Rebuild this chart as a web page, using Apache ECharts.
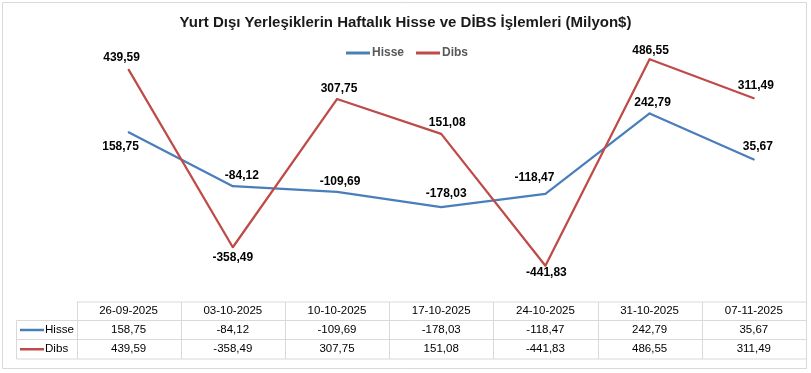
<!DOCTYPE html>
<html><head><meta charset="utf-8">
<script src="https://cdn.jsdelivr.net/npm/echarts@6/dist/echarts.min.js"></script>
<style>html,body{margin:0;padding:0;background:#fff}#c{width:811px;height:373px}</style>
</head><body><div id="c"></div>
<script>
const categories = ['26-09-2025','03-10-2025','10-10-2025','17-10-2025','24-10-2025','31-10-2025','07-11-2025'];
const hisse = [158.75, -84.12, -109.69, -178.03, -118.47, 242.79, 35.67];
const dibs = [439.59, -358.49, 307.75, 151.08, -441.83, 486.55, 311.49];
const seriesNames = ['Hisse', 'Dibs'];
const titleText = 'Yurt Dışı Yerleşiklerin Haftalık Hisse ve DİBS İşlemleri (Milyon$)';

const FONT = "'Liberation Sans', Arial, sans-serif";
const BLUE = '#4a7ebb', RED = '#be4b48', GRID = '#d9d9d9';
const fmt = v => v.toFixed(2).replace('.', ',');

const gLeft = 76.5, colW = 104.2, gTop = 34, gHeight = 267;
const rows = [302, 320.5, 339.5, 359];
const tableRight = gLeft + colW * categories.length;

// label placement per point: [position, distance, dx]
const hLab = [['bottom',8,-8],['top',4,9],['top',3,3],['top',6,5],['top',9,-11],['top',4,3],['top',6,4]];
const dLab = [['top',5,-7],['bottom',3,0],['top',3,2],['top',4,6],['bottom',0,1],['top',2,1],['top',6,2]];

function mk(vals, labs) {
  return vals.map((v, i) => ({
    value: v,
    label: { position: labs[i][0], distance: labs[i][1], offset: [labs[i][2], 0] }
  }));
}

const graphics = [];
graphics.push({ type: 'rect', shape: { x: 2.5, y: 2.5, width: 804, height: 366 }, style: { fill: 'none', stroke: GRID, lineWidth: 1 }, silent: true });
graphics.push({ type: 'line', shape: { x1: gLeft, y1: rows[0], x2: tableRight, y2: rows[0] }, style: { stroke: GRID, lineWidth: 1 } });
for (let r = 1; r < rows.length; r++) {
  graphics.push({ type: 'line', shape: { x1: 16.5, y1: rows[r], x2: tableRight, y2: rows[r] }, style: { stroke: GRID, lineWidth: 1 } });
}
graphics.push({ type: 'line', shape: { x1: 16.5, y1: rows[1], x2: 16.5, y2: rows[3] }, style: { stroke: GRID, lineWidth: 1 } });
for (let i = 0; i <= categories.length; i++) {
  const x = Math.round(gLeft + i * colW) + 0.5;
  graphics.push({ type: 'line', shape: { x1: x, y1: rows[0], x2: x, y2: rows[3] }, style: { stroke: GRID, lineWidth: 1 } });
}
[[seriesNames[0], hisse, BLUE], [seriesNames[1], dibs, RED]].forEach((s, r) => {
  const cy = (rows[r + 1] + rows[r + 2]) / 2;
  graphics.push({ type: 'line', shape: { x1: 20, y1: cy, x2: 44, y2: cy }, style: { stroke: s[2], lineWidth: 2.5 } });
  graphics.push({ type: 'text', x: 45, y: cy, style: { text: s[0], fill: '#000', font: '11.6px ' + FONT, textVerticalAlign: 'middle', textAlign: 'left' } });
  s[1].forEach((v, i) => {
    graphics.push({ type: 'text', x: gLeft + colW * (i + 0.5), y: cy, style: { text: fmt(v), fill: '#000', font: '11.5px ' + FONT, textVerticalAlign: 'middle', textAlign: 'center' } });
  });
});

const labelStyle = { show: true, formatter: p => fmt(p.value), fontFamily: FONT, fontSize: 12, fontWeight: 'bold', color: '#000' };

const chart = echarts.init(document.getElementById('c'), null, { renderer: 'canvas' });
chart.setOption({
  animation: false,
  backgroundColor: '#fff',
  title: { text: titleText, left: 'center', top: 10, textStyle: { fontFamily: FONT, fontSize: 15, fontWeight: 'bold', color: '#1a1a1a' } },
  legend: {
    data: seriesNames.map(n => ({ name: n, icon: 'rect' })), left: 341, top: 42, itemWidth: 24, itemHeight: 3, itemGap: 12,
    textStyle: { fontFamily: FONT, fontSize: 12, fontWeight: 'bold', color: '#595959', padding: [0,0,0,-3] }
  },
  grid: { left: gLeft, top: gTop, width: colW * categories.length, height: gHeight, containLabel: false },
  xAxis: {
    type: 'category', data: categories, boundaryGap: true,
    axisLine: { show: false }, axisTick: { show: false }, splitLine: { show: false },
    axisLabel: { color: '#000', fontFamily: FONT, fontSize: 11.5, margin: 4, interval: 0 }
  },
  yAxis: { type: 'value', min: -600, max: 600, show: false, splitLine: { show: false } },
  series: [
    { name: seriesNames[0], type: 'line', data: mk(hisse, hLab), symbol: 'circle', symbolSize: 2, showSymbol: true,
      lineStyle: { color: BLUE, width: 2.25 }, itemStyle: { color: BLUE }, label: labelStyle },
    { name: seriesNames[1], type: 'line', data: mk(dibs, dLab), symbol: 'circle', symbolSize: 2, showSymbol: true,
      lineStyle: { color: RED, width: 2.25 }, itemStyle: { color: RED }, label: labelStyle }
  ],
  graphic: graphics
});
</script></body></html>
